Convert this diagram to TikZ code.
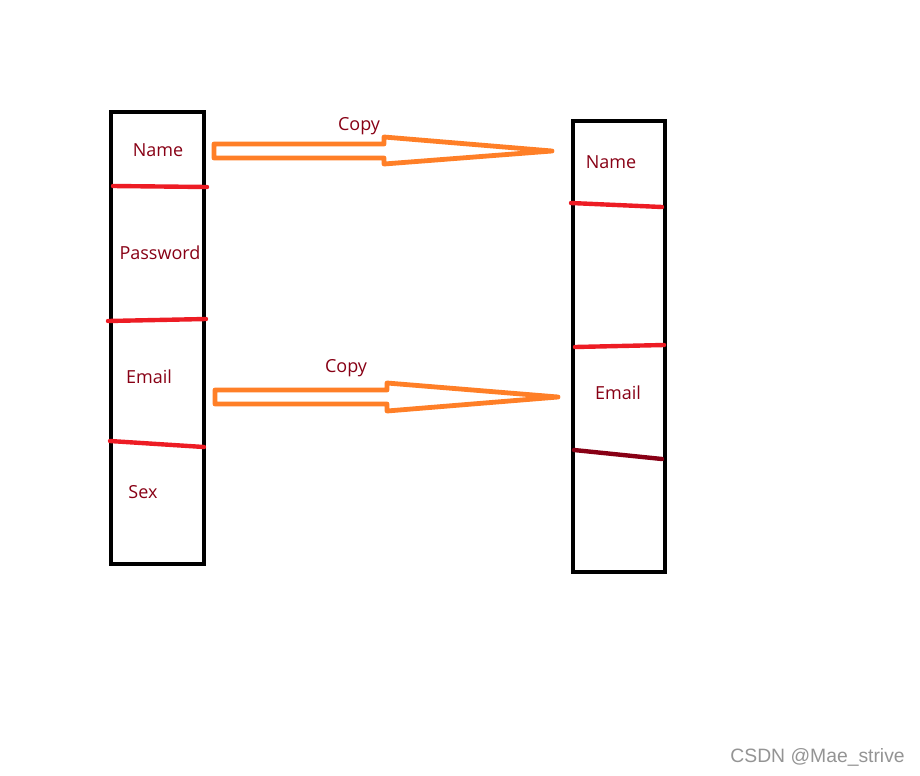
\documentclass[tikz,border=0pt]{standalone}
\usepackage{fontspec}
\setmainfont{Open Sans}
\definecolor{txt}{HTML}{880015}
\definecolor{org}{HTML}{FF7F27}
\definecolor{rd}{HTML}{ED1C24}
\definecolor{drd}{HTML}{880015}
\begin{document}
\begin{tikzpicture}[x=0.75pt,y=-0.75pt,
  box/.style={draw=black,line width=3pt,inner sep=0pt},
  lbl/.style={text=txt,font=\fontsize{13.5}{16}\selectfont,inner sep=0pt},
  sep/.style={draw=rd,line width=3.3pt,line cap=round},
  fat/.style={draw=org,line width=3.6pt,line join=round}]
\useasboundingbox[fill=white] (0,0) rectangle (920,775);
% boxes
\node[box,minimum width=69.75pt,minimum height=339pt] (L) at (157.5,338) {};
\node[box,minimum width=69pt,minimum height=338.25pt] (R) at (619,346.5) {};
% separators left
\draw[sep] (113,186) -- (207,187);
\draw[sep] (108,321) -- (206,319);
\draw[sep] (110,441) -- (204,447);
% separators right
\draw[sep] (571,203) -- (662,207);
\draw[sep] (575,347) -- (664,345);
\draw[sep,draw=drd] (574,450) -- (662,459);
% labels
\node[lbl] (n1) at (158,150) {Name};
\node[lbl] (p1) at (160,253) {Password};
\node[lbl] (e1) at (149,377) {Email};
\node[lbl] (s1) at (143,492) {Sex};
\node[lbl] (n2) at (611,162) {Name};
\node[lbl] (e2) at (618,393) {Email};
\node[lbl] (c1) at (359,126) {Copy};
\node[lbl] (c2) at (346,368) {Copy};
% arrows
\draw[fat] (214,144) -- (384,144) -- (384,137) -- (552,151) -- (384,164) -- (384,158) -- (214,158) -- cycle;
\draw[fat] (215,390) -- (387,390) -- (387,383) -- (558,397) -- (387,411) -- (387,404) -- (215,404) -- cycle;
% watermark
\node[text=black!42,font=\fontsize{14.5}{17}\selectfont\setmainfont{Liberation Sans}\rmfamily,inner sep=0pt,anchor=east] (wm) at (905,757) {CSDN @Mae\_strive};
\end{tikzpicture}
\end{document}
